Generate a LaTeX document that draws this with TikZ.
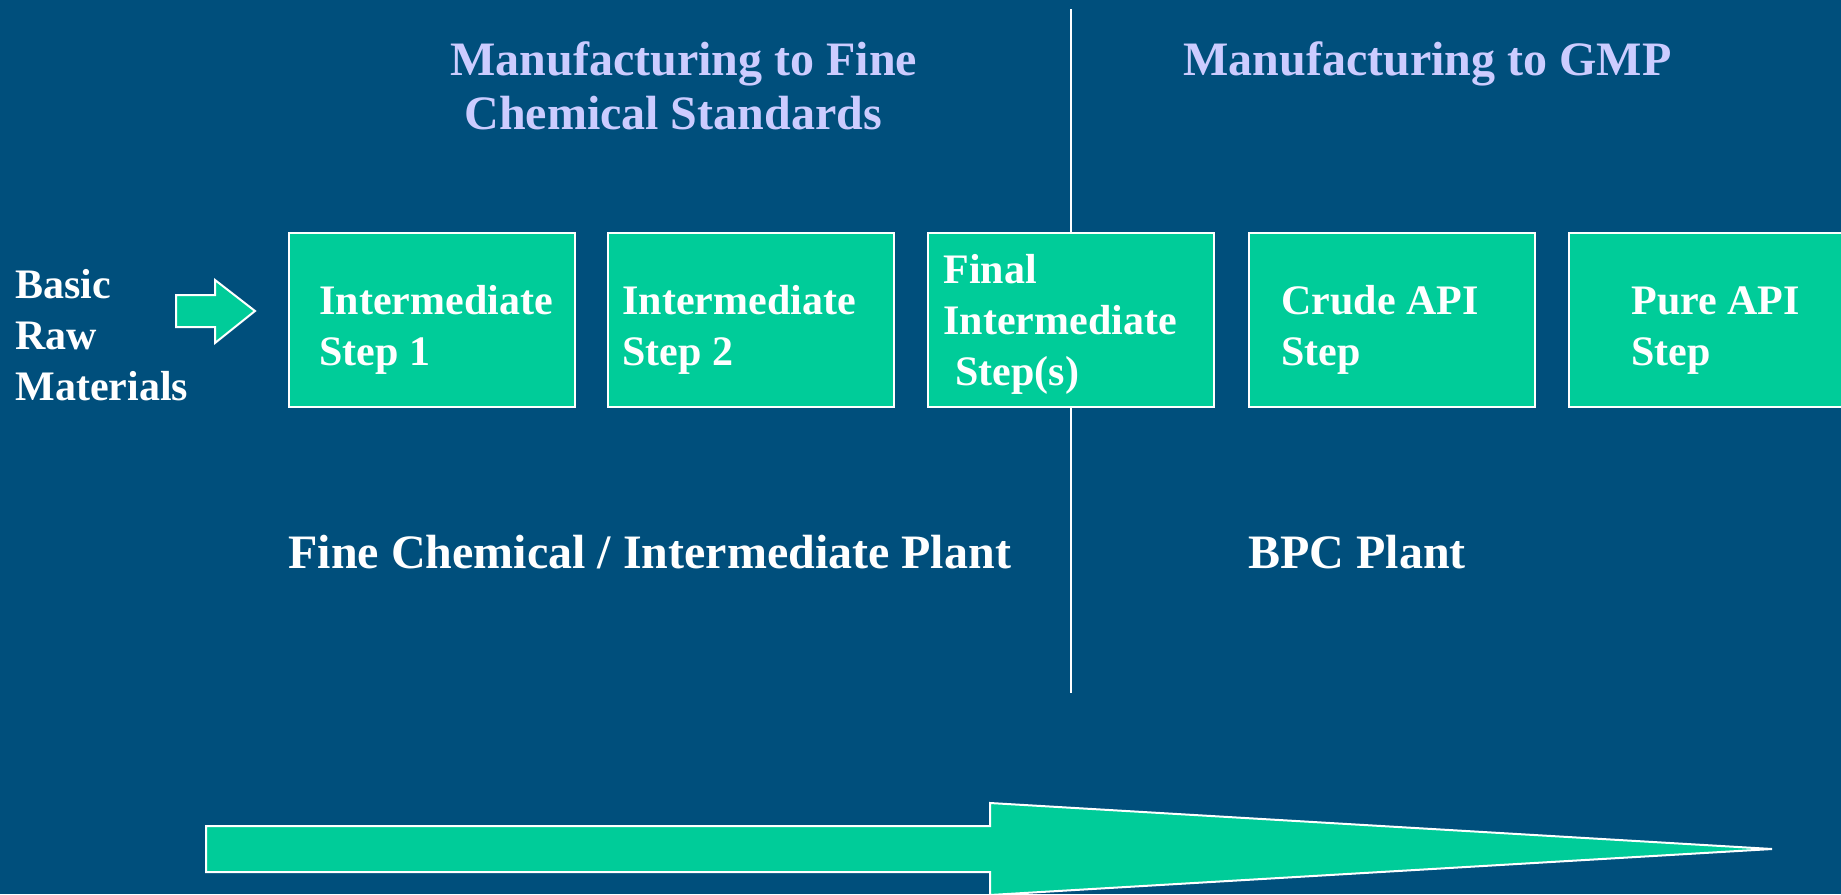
\documentclass[tikz,border=0pt]{standalone}
\usepackage{fontspec}
\setmainfont{Liberation Serif}
\definecolor{bgblue}{RGB}{0,79,124}
\definecolor{stepgreen}{RGB}{0,204,153}
\definecolor{titlelav}{RGB}{204,204,255}
\begin{document}
\begin{tikzpicture}[x=0.5pt,y=-0.5pt,
  stepbox/.style={draw=white,fill=stepgreen,line width=1pt,minimum width=143pt,minimum height=87pt,anchor=north west,inner sep=0pt},
  steptext/.style={text=white,font=\bfseries\fontsize{21}{25.5}\selectfont,align=left,anchor=base west,inner sep=0pt},
  titletext/.style={text=titlelav,font=\bfseries\fontsize{24}{27}\selectfont,align=left,anchor=base west,inner sep=0pt},
  planttext/.style={text=white,font=\bfseries\fontsize{24}{27}\selectfont,anchor=base west,inner sep=0pt},
  blockarrow/.style={draw=white,fill=stepgreen,line width=1pt,line join=miter}]
\useasboundingbox (0,0) rectangle (1841,894);
\fill[bgblue] (0,0) rectangle (1841,894);
% divider
\coordinate (divtop) at (1071,9);
\coordinate (divbot) at (1071,693);
\draw[white,line width=1pt] (divtop) -- (divbot);
% titles (base anchor = baseline of last line)
\node[titletext] (tfine) at (450,129) {Manufacturing to Fine\\\hspace*{7pt}Chemical Standards};
\node[titletext] (tgmp) at (1183,75) {Manufacturing to GMP};
% raw materials
\node[steptext] (raw) at (15,400) {Basic\\Raw\\Materials};
\draw[blockarrow] (176,295) -- (215,295) -- (215,280) -- (255,311) -- (215,343) -- (215,327) -- (176,327) -- cycle;
% step boxes
\node[stepbox] (b1) at (288,232) {};
\node[stepbox] (b2) at (607,232) {};
\node[stepbox] (b3) at (927,232) {};
\node[stepbox] (b4) at (1248,232) {};
\node[stepbox,minimum width=150pt] (b5) at (1568,232) {};
\node[steptext] (s1) at (319,365) {Intermediate\\Step 1};
\node[steptext] (s2) at (622,365) {Intermediate\\Step 2};
\node[steptext] (s3) at (943,385) {Final\\Intermediate\\\hspace*{6pt}Step(s)};
\node[steptext] (s4) at (1281,365) {Crude API\\Step};
\node[steptext] (s5) at (1631,365) {Pure API\\Step};
% plant labels
\node[planttext] (pfine) at (288,568) {Fine Chemical / Intermediate Plant};
\node[planttext] (pbpc) at (1248,568) {BPC Plant};
% big arrow
\draw[blockarrow] (206,826) -- (990,826) -- (990,803) -- (1772,849) -- (990,895) -- (990,872) -- (206,872) -- cycle;
\end{tikzpicture}
\end{document}
